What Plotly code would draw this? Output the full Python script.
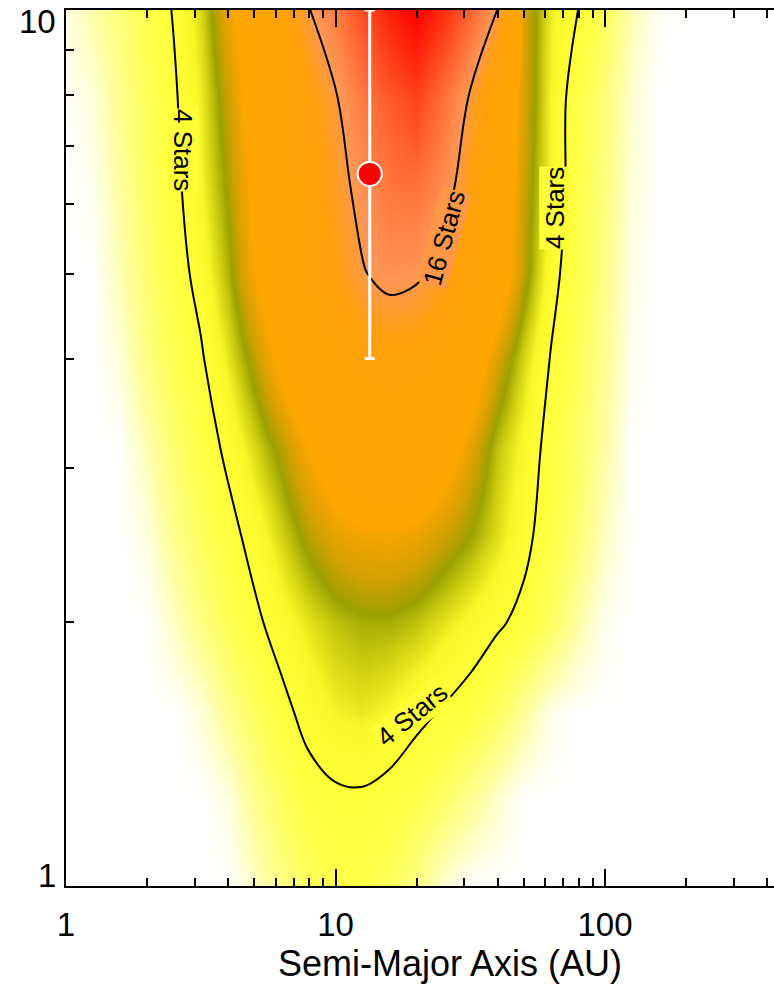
import numpy as np
import plotly.graph_objects as go
from plotly.colors import sample_colorscale

# Grid nodes (log10 of semi-major axis in AU, log10 of mass)
log_a_nodes = [0.0, 0.1, 0.2, 0.3, 0.4, 0.5, 0.6, 0.7, 0.8, 0.9, 1.0, 1.1, 1.2,
               1.3, 1.4, 1.5, 1.6, 1.7, 1.8, 1.9, 2.0, 2.1, 2.2, 2.3, 2.4]
log_m_nodes = [0.0, 0.1, 0.2, 0.3, 0.4, 0.5, 0.6, 0.7, 0.8, 0.9, 1.0]

# Number of stars sensitive to a companion at each (a, M) node, one row per mass
stars_m00 = [0, 0, 0, 0, 0, 0, 0, 0.8, 1.8, 2.6, 3.0, 3.0, 2.6, 1.8, 0.6, 0, 0, 0, 0, 0, 0, 0, 0, 0, 0]
stars_m01 = [0, 0, 0, 0, 0, 0, 0.4, 1.6, 2.6, 3.4, 3.75, 3.8, 3.5, 3.0, 2.4, 1.6, 0.7, 0, 0, 0, 0, 0, 0, 0, 0]
stars_m02 = [0, 0, 0, 0, 0, 0.5, 1.6, 2.6, 3.6, 4.5, 5.1, 5.3, 5.0, 4.4, 3.9, 3.4, 2.6, 1.4, 0.3, 0, 0, 0, 0, 0, 0]
stars_m03 = [0, 0, 0, 0, 0.8, 1.8, 2.8, 3.7, 4.6, 5.4, 6.0, 6.3, 6.3, 6.0, 5.4, 4.8, 4.2, 3.6, 2.5, 1.2, 0.2, 0, 0, 0, 0]
stars_m04 = [0, 0, 0, 0.4, 1.6, 2.6, 3.5, 4.5, 5.7, 6.9, 7.8, 8.2, 8.3, 8.0, 7.3, 6.5, 5.5, 4.4, 3.2, 2.1, 0.8, 0, 0, 0, 0]
stars_m05 = [0, 0, 0, 1.0, 2.2, 3.2, 4.3, 5.6, 6.9, 8.5, 9.8, 10.6, 11.0, 10.6, 9.5, 7.8, 6.0, 4.8, 3.5, 2.4, 1.2, 0, 0, 0, 0]
stars_m06 = [0, 0, 0.5, 1.8, 2.9, 3.8, 5.3, 7.0, 9.0, 10.8, 12.0, 12.8, 13.0, 12.8, 11.8, 10.0, 7.5, 5.6, 3.9, 2.7, 1.5, 0.2, 0, 0, 0]
stars_m07 = [0, 0, 1.0, 2.2, 3.3, 4.5, 6.2, 8.5, 10.5, 12.3, 14.0, 15.8, 17.0, 16.5, 14.8, 12.5, 10.0, 7.0, 4.5, 3.0, 1.7, 0.3, 0, 0, 0]
stars_m08 = [0, 0.2, 1.3, 2.5, 3.6, 5.0, 6.7, 9.0, 11.0, 13.0, 14.8, 17.0, 19.5, 20.0, 17.5, 14.0, 10.5, 7.2, 5.0, 3.1, 1.9, 0.5, 0, 0, 0]
stars_m09 = [0.1, 0.5, 1.6, 2.7, 3.8, 5.2, 7.2, 9.5, 11.5, 13.5, 15.7, 19.0, 22.0, 24.0, 20.0, 15.6, 11.0, 7.5, 5.0, 3.2, 2.0, 0.6, 0, 0, 0]
stars_m10 = [0.4, 1.2, 2.0, 3.0, 4.1, 5.6, 8.0, 10.0, 12.5, 15.8, 19.0, 23.0, 27.0, 30.0, 26.0, 21.0, 16.0, 7.5, 5.2, 4.0, 2.6, 1.0, 0.1, 0, 0]

star_rows = [stars_m00, stars_m01, stars_m02, stars_m03, stars_m04, stars_m05,
             stars_m06, stars_m07, stars_m08, stars_m09, stars_m10]

# Contour levels and their label placement (a, M, angle)
contour_levels = [4, 16]
label_text = ["4 Stars", "4 Stars", "4 Stars", "16 Stars"]
label_level = [4, 4, 4, 16]
label_a = [2.72, 65.2, 19.2, 25.3]
label_m = [6.92, 5.94, 1.567, 5.49]
label_angle = [90, -90, -39, -75]

# Detected companion: semi-major axis and mass with asymmetric error
comp_a = [13.4]
comp_m = [6.5]
comp_m_err_up = [3.5]
comp_m_err_down = [2.5]

x_tick_vals = [1, 10, 100]
y_tick_vals = [1, 10]
y_tick_text = ["1", "10"]

Z_MAX = 30.0
cmap_stops = [
    (0.0, "rgb(255,255,255)"),
    (0.4, "rgb(255,255,225)"),
    (1.2, "rgb(255,255,165)"),
    (2.0, "rgb(255,255,120)"),
    (3.0, "rgb(255,255,75)"),
    (4.0, "rgb(255,255,55)"),
    (5.0, "rgb(248,248,40)"),
    (5.8, "rgb(205,205,15)"),
    (6.5, "rgb(155,160,0)"),
    (7.3, "rgb(210,160,0)"),
    (8.5, "rgb(255,165,0)"),
    (14.0, "rgb(255,160,12)"),
    (16.5, "rgb(255,150,85)"),
    (20.0, "rgb(255,112,55)"),
    (25.0, "rgb(255,55,20)"),
    (30.0, "rgb(255,0,0)"),
]
colorscale = [[v / Z_MAX, c] for v, c in cmap_stops]

a_nodes = [10 ** v for v in log_a_nodes]
m_nodes = [10 ** v for v in log_m_nodes]
z = np.array(star_rows, dtype=float)

FONT = "Liberation Sans, Arial, Helvetica, sans-serif"

fig = go.Figure()

fig.add_trace(go.Heatmap(
    x=a_nodes, y=m_nodes, z=z,
    colorscale=colorscale, zmin=0, zmax=Z_MAX,
    zsmooth="best", showscale=False, hoverinfo="skip",
))

fig.add_trace(go.Contour(
    x=a_nodes, y=m_nodes, z=z,
    autocontour=False,
    contours=dict(start=contour_levels[0], end=contour_levels[-1],
                  size=contour_levels[-1] - contour_levels[0],
                  coloring="none", showlabels=False),
    line=dict(color="black", width=2),
    showscale=False, hoverinfo="skip",
))

fig.add_trace(go.Scatter(
    x=comp_a, y=comp_m, mode="markers",
    marker=dict(size=24, color="#ff0000", line=dict(color="white", width=2)),
    error_y=dict(type="data", symmetric=False, array=comp_m_err_up,
                 arrayminus=comp_m_err_down, color="white", thickness=3, width=5),
    cliponaxis=False, showlegend=False, hoverinfo="skip",
))

annotations = []
for txt, lvl, a, m, ang in zip(label_text, label_level, label_a, label_m, label_angle):
    bg = sample_colorscale(colorscale, [lvl / Z_MAX])[0]
    annotations.append(dict(
        x=np.log10(a), y=np.log10(m), xref="x", yref="y",
        text=txt, showarrow=False, textangle=ang,
        font=dict(family=FONT, size=26, color="black"),
        bgcolor=bg, borderpad=0,
    ))

# y tick labels kept within the vertical span of the axis
for val, txt in zip(y_tick_vals, y_tick_text):
    annotations.append(dict(
        x=0, y=np.log10(val), xref="paper", yref="y",
        text=txt, showarrow=False, xanchor="right", yanchor="middle",
        xshift=-8, yshift=11 if val == y_tick_vals[0] else -11,
        font=dict(family=FONT, size=33, color="black"),
    ))

annotations.append(dict(
    x=0.542, y=-0.0885, xref="paper", yref="paper",
    text="Semi-Major Axis (AU)", showarrow=False,
    xanchor="center", yanchor="middle",
    font=dict(family=FONT, size=36, color="black"),
))

W, H = 774, 987
left, top, bottom = 66, 10, 101
decade_px = 269.5

fig.update_layout(
    width=W, height=H,
    margin=dict(l=left, r=0, t=top, b=bottom, pad=0),
    paper_bgcolor="white", plot_bgcolor="white",
    showlegend=False,
    annotations=annotations,
    xaxis=dict(
        type="log", range=[0, (W - left) / decade_px],
        tickvals=x_tick_vals, ticktext=[str(v) for v in x_tick_vals],
        ticks="inside", ticklen=17, tickwidth=2, tickcolor="black",
        minor=dict(ticks="inside", ticklen=8, tickwidth=2, tickcolor="black",
                   dtick="D1", showgrid=False),
        showline=True, linewidth=2, linecolor="black", mirror="allticks",
        showgrid=False, zeroline=False,
        tickfont=dict(family=FONT, size=33, color="black"),
        ticklabelstandoff=8,
    ),
    yaxis=dict(
        type="log", range=[0, 1],
        tickvals=y_tick_vals, showticklabels=False,
        ticks="inside", ticklen=17, tickwidth=2, tickcolor="black",
        minor=dict(ticks="inside", ticklen=8, tickwidth=2, tickcolor="black",
                   dtick="D1", showgrid=False),
        showline=True, linewidth=2, linecolor="black", mirror=False,
        showgrid=False, zeroline=False,
    ),
)

fig.write_html("out.html")
